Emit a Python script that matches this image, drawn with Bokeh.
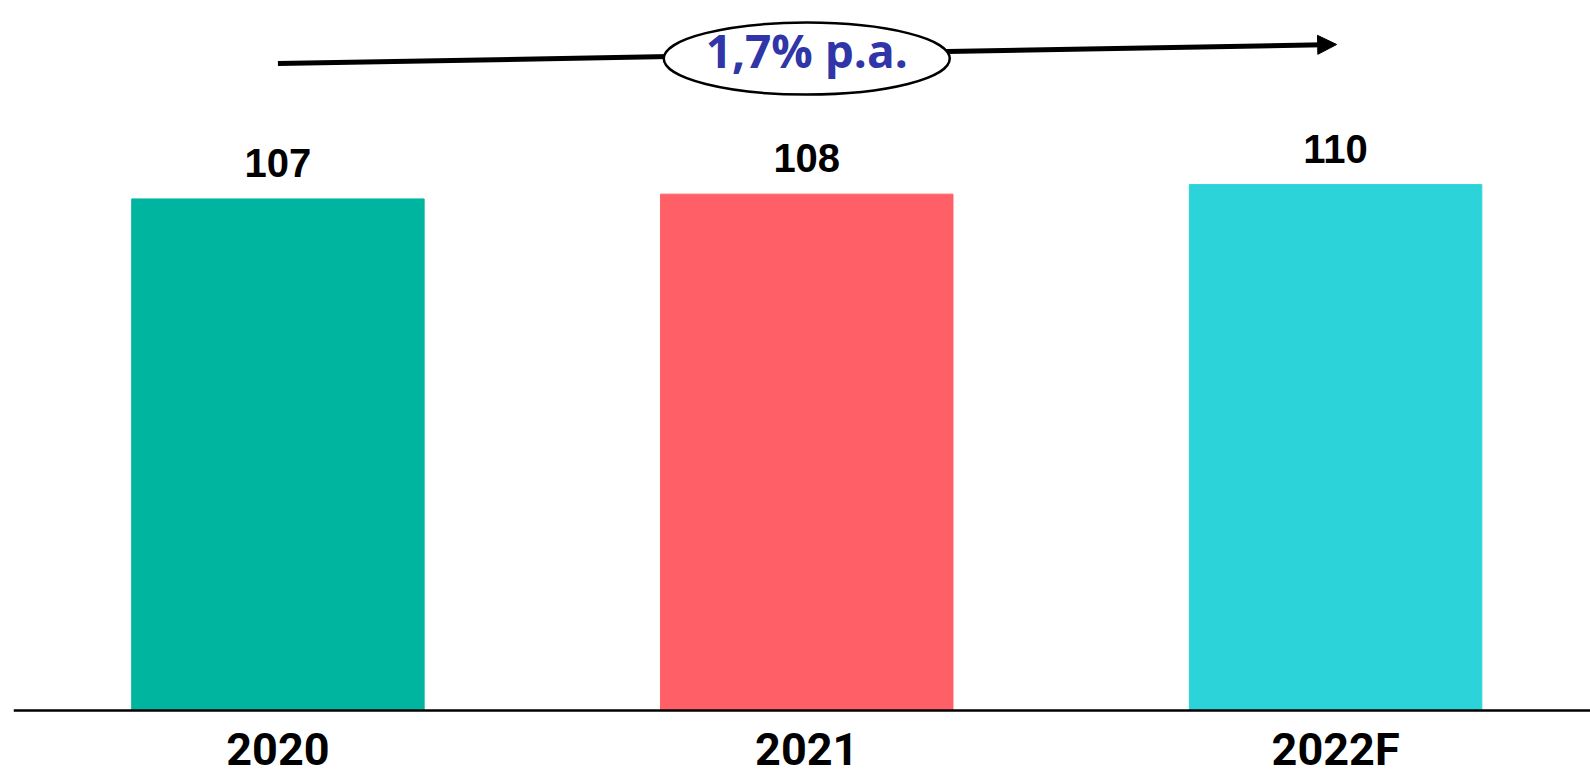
from bokeh.plotting import figure
from bokeh.models import (ColumnDataSource, LabelSet, Arrow, NormalHead, Range1d, Span)
from bokeh.core.properties import value
from bokeh.embed import file_html
from bokeh.resources import INLINE

# ---- data ----
categories = ["2020", "2021", "2022F"]
values = [107, 108, 110]
bar_colors = ["#00B59F", "#FF5F66", "#2CD4DA"]
growth_label = "1,7% p.a."

positions = [i + 0.5 for i in range(len(categories))]
value_text = [str(v) for v in values]

src = ColumnDataSource(dict(x=positions, top=values, color=bar_colors,
                            cat=categories, vtxt=value_text,
                            zero=[0] * len(values)))

p = figure(width=1590, height=776, output_backend="svg", toolbar_location=None,
           x_range=Range1d(0, 2.982), y_range=Range1d(-13.8, 148.5),
           min_border_left=13, min_border_right=0, min_border_top=0,
           min_border_bottom=0)
p.outline_line_color = None
p.grid.visible = False
p.xaxis.visible = False
p.yaxis.visible = False
p.background_fill_color = "white"
p.border_fill_color = "white"

p.vbar(x="x", top="top", width=0.553, bottom=0, color="color", source=src)

# baseline
p.add_layout(Span(location=0, dimension="width", line_color="black", line_width=2.5))

# category labels under the baseline
p.add_layout(LabelSet(x="x", y="zero", text="cat", source=src, y_offset=-54,
                      text_align="center", text_baseline="alphabetic",
                      text_font=value("Roboto"), text_font_style="bold",
                      text_font_size="45px", text_color="black"))

# growth arrow
arrow = Arrow(x_start=positions[0], y_start=135.3, x_end=positions[-1] + 0.002, y_end=139.3,
              line_width=5, line_color="black",
              end=NormalHead(size=19, fill_color="black", line_color="black", line_width=1))
arrow.level = "underlay"
p.add_layout(arrow)

p.ellipse(x=[positions[1]], y=[136.35], width=286, height=72,
          width_units="screen", height_units="screen",
          fill_color="white", line_color="black", line_width=2.5)

growth_src = ColumnDataSource(dict(x=[positions[1]], y=[134.3], t=[growth_label]))
p.add_layout(LabelSet(x="x", y="y", text="t", source=growth_src,
                      text_align="center", text_baseline="alphabetic",
                      text_font=value("Open Sans"), text_font_style="bold",
                      text_font_size="46px", text_color="#3035A8"))

# value labels
p.add_layout(LabelSet(x="x", y="top", text="vtxt", source=src, y_offset=22,
                      text_align="center", text_baseline="alphabetic",
                      text_font=value("Liberation Sans"), text_font_style="bold",
                      text_font_size="40px", text_color="black"))

open("out.html", "w").write(file_html(p, INLINE))
